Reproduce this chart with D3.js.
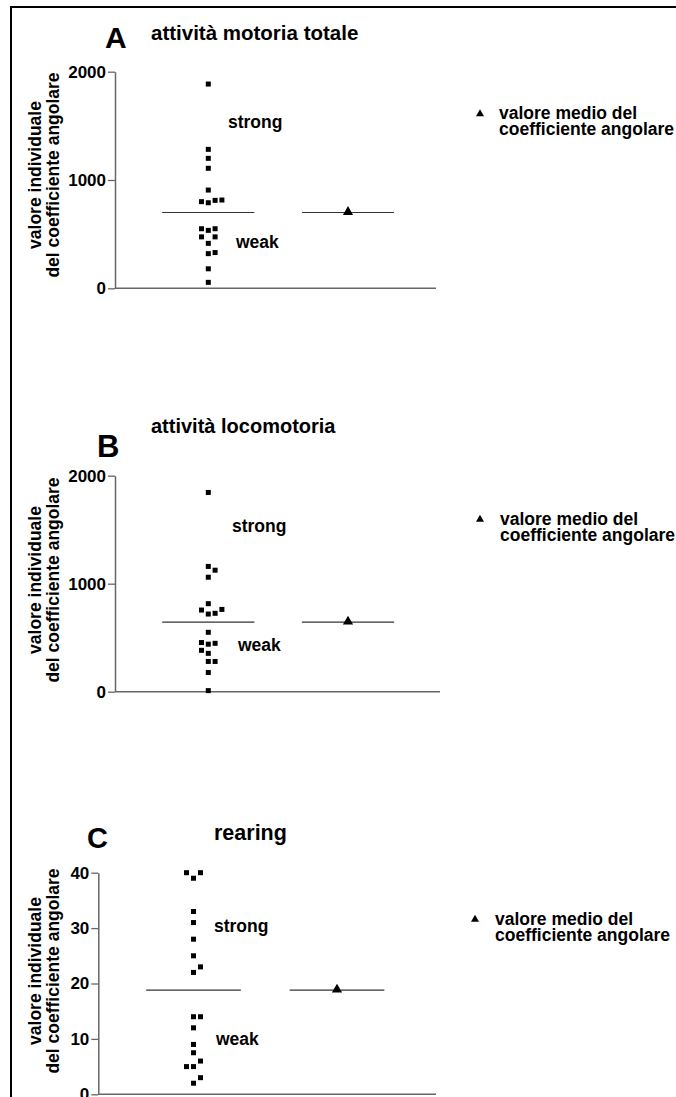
<!DOCTYPE html>
<html><head><meta charset="utf-8">
<script src="https://cdn.jsdelivr.net/npm/d3@7"></script>
<style>
body{margin:0;background:#fff}
text{font-family:"Liberation Sans",Arial,sans-serif;font-weight:bold;fill:#000}
</style>
</head><body>
<svg id="chart" width="676" height="1097"></svg>
<script>
// ---- data ----
const categories = ["valori individuali", "valore medio"];
const panelLetters = ["A", "B", "C"];
const panelTitles = ["attività motoria totale", "attività locomotoria", "rearing"];
const ticksAB = [0, 1000, 2000];
const ticksC = [0, 10, 20, 30, 40];
const valuesA = [1886, 1283, 1200, 1108, 907, 790, 812, 800, 815, 535, 550, 550, 475, 475, 415, 320, 330, 180, 55];
const valuesB = [1845, 1160, 1125, 1060, 815, 719, 726, 756, 762, 550, 440, 448, 455, 355, 383, 280, 280, 178, 10];
const valuesC = [39, 40, 40, 33, 31, 28, 25, 22, 23, 14, 14, 12, 9, 7.5, 5, 6, 5, 2, 3];
const meanValues = [700, 645, 18.8];
const groupLabels = ["strong", "weak"];
const legendLines = ["valore medio del", "coefficiente angolare"];
const axisTitleLines = ["valore individuale", "del coefficiente angolare"];

// ---- layout ----
const layout = [
  {values: valuesA, ticks: ticksAB, yMax: 2000, axisX: 115, y0: 288.3, yTop: 71.7, col1: 208.3, col2: 348, xEnd: 436,
   letter: {x: 105, y: 48.3, size: 30}, title: {x: 151, y: 40, size: 20.5},
   strong: {x: 228, y: 128.3}, weak: {x: 236, y: 248.3},
   legend: {tx: 480, ty: 114, x: 499, y: 119}, labelCy: 175, step: 6.8},
  {values: valuesB, ticks: ticksAB, yMax: 2000, axisX: 115, y0: 691.7, yTop: 475.7, col1: 208.3, col2: 348, xEnd: 440,
   letter: {x: 97, y: 457, size: 31}, title: {x: 151, y: 433.3, size: 20},
   strong: {x: 232, y: 531.7}, weak: {x: 238, y: 650.7},
   legend: {tx: 480, ty: 519.5, x: 500, y: 524.5}, labelCy: 580, step: 6.8},
  {values: valuesC, ticks: ticksC, yMax: 40, axisX: 98.3, y0: 1094.3, yTop: 872.7, col1: 193.5, col2: 337, xEnd: 436,
   letter: {x: 87, y: 848, size: 29}, title: {x: 214, y: 840, size: 21.5},
   strong: {x: 214, y: 931.7}, weak: {x: 216, y: 1045},
   legend: {tx: 475, ty: 919.5, x: 495, y: 924.5}, labelCy: 971, step: 7}
];

const svg = d3.select("#chart");

// outer frame (only top/left visible)
svg.append("rect").attr("x", 11).attr("y", 7).attr("width", 800).attr("height", 1300)
  .attr("fill", "none").attr("stroke", "#000").attr("stroke-width", 2);

function dodge(vals, y, thr) {
  const order = [0, 1, -1, 2, -2, 3, -3];
  const placed = [];
  return vals.map(v => {
    const py = y(v);
    for (const s of order) {
      if (!placed.some(p => p.s === s && Math.abs(p.y - py) < thr)) {
        placed.push({s, y: py});
        return {v, s};
      }
    }
    return {v, s: 0};
  });
}

layout.forEach((P, i) => {
  const g = svg.append("g");
  const y = d3.scaleLinear().domain([0, P.yMax]).range([P.y0, P.yTop]);
  const x = d3.scaleLinear().domain([0, 1]).range([P.col1, P.col2]);

  // letter and title
  g.append("text").attr("x", P.letter.x).attr("y", P.letter.y).attr("font-size", P.letter.size).text(panelLetters[i]);
  g.append("text").attr("x", P.title.x).attr("y", P.title.y).attr("font-size", P.title.size).text(panelTitles[i]);

  // y axis
  const ax = g.append("g").attr("transform", `translate(${P.axisX},0)`)
    .call(d3.axisLeft(y).tickValues(P.ticks).tickFormat(d3.format("d")).tickSize(7).tickPadding(2).tickSizeOuter(0));
  ax.select(".domain").attr("stroke", "#666").attr("stroke-width", 1.5);
  ax.selectAll(".tick line").attr("stroke", "#666").attr("stroke-width", 1.3);
  ax.selectAll(".tick text").attr("font-size", 17).attr("font-family", "Liberation Sans, Arial, sans-serif")
    .attr("font-weight", "bold").attr("fill", "#000");

  // x axis baseline
  g.append("line").attr("x1", P.axisX).attr("x2", P.xEnd).attr("y1", y(0)).attr("y2", y(0))
    .attr("stroke", "#666").attr("stroke-width", 1.5);

  // y axis title
  const lab = g.append("text").attr("transform", `translate(41,${P.labelCy}) rotate(-90)`)
    .attr("text-anchor", "middle").attr("font-size", 17.5);
  axisTitleLines.forEach((t, k) => lab.append("tspan").attr("x", 0).attr("dy", k === 0 ? 0 : 18).text(t));

  // mean lines
  categories.forEach((c, k) => {
    g.append("line").attr("x1", x(k - 0.33)).attr("x2", x(k + 0.33))
      .attr("y1", y(meanValues[i])).attr("y2", y(meanValues[i]))
      .attr("stroke", "#333").attr("stroke-width", 1.2);
  });

  // individual points
  const pts = dodge(P.values, y, 7.5);
  const sz = 5;
  g.selectAll("rect.pt").data(pts).join("rect").attr("class", "pt")
    .attr("x", d => x(0) + d.s * P.step - sz / 2)
    .attr("y", d => y(d.v) - sz / 2)
    .attr("width", sz).attr("height", sz).attr("fill", "#000");

  // mean triangle
  g.append("path").attr("d", d3.symbol(d3.symbolTriangle, 45)())
    .attr("transform", `translate(${x(1)},${y(meanValues[i]) - 0.5})`).attr("fill", "#000");

  // strong / weak labels
  g.append("text").attr("x", P.strong.x).attr("y", P.strong.y).attr("font-size", 17.5).text(groupLabels[0]);
  g.append("text").attr("x", P.weak.x).attr("y", P.weak.y).attr("font-size", 17.5).text(groupLabels[1]);

  // legend
  g.append("path").attr("d", d3.symbol(d3.symbolTriangle, 28)())
    .attr("transform", `translate(${P.legend.tx},${P.legend.ty})`).attr("fill", "#000");
  const lt = g.append("text").attr("font-size", 17.5);
  legendLines.forEach((t, k) => lt.append("tspan").attr("x", P.legend.x).attr("y", P.legend.y + k * 16).text(t));
});
</script>
</body></html>
